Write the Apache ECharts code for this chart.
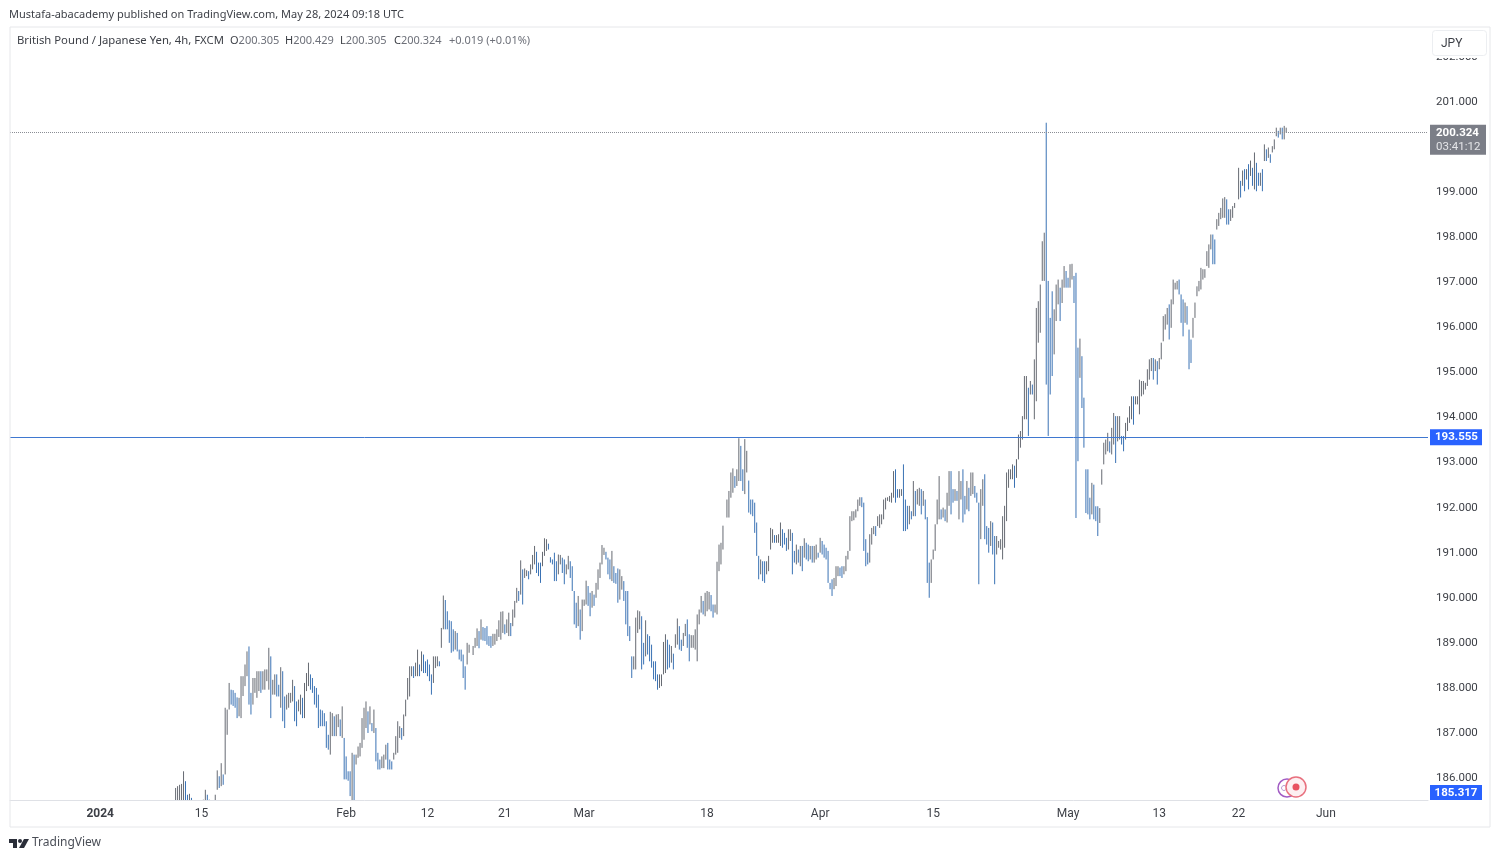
<!DOCTYPE html>
<html>
<head>
<meta charset="utf-8">
<title>GBPJPY 4h</title>
<script src="https://cdn.jsdelivr.net/npm/echarts@6/dist/echarts.min.js"></script>
<style>
  html, body { margin: 0; padding: 0; background: #fff; }
  #main { width: 1500px; height: 861px; }
</style>
</head>
<body>
<div id="main"></div>
<script>
'use strict';

// [low, high] of each 4h bar
var janFebBars = [
  [185.2,185.78],[185.2,185.82],[185.2,185.85],[185.3,185.87],[185.5,186.15],[185.4,185.93],[185.2,185.63],[185.2,185.65],[185.1,185.56],[185.0,185.4],
  [185.0,185.4],[184.9,185.3],[184.9,185.35],[185.0,185.44],[185.1,185.52],[185.2,185.74],[185.2,185.63],[185.2,185.52],[185.1,185.42],[185.1,185.43],
  [185.2,185.63],[185.74,186.17],[185.78,186.04],[185.82,186.33],[185.85,186.08],[186.08,187.56],[186.96,187.52],[187.52,188.11],[187.63,187.96],[187.60,187.95],[187.56,187.89],
  [187.33,187.79],[187.37,187.78],[187.33,188.26],[187.82,188.26],[188.04,188.52],[188.26,188.81],[187.63,188.92],[187.41,187.89],[187.63,188.22],[187.89,188.22],
  [187.78,188.37],[187.93,188.37],[187.89,188.37],[187.96,188.37],[187.96,188.41],[188.15,188.41],[187.96,188.89],[187.33,188.70],[187.85,188.18],[187.85,188.30],
  [187.81,188.30],[187.81,188.07],[187.56,188.46],[187.26,188.37],[187.11,187.81],[187.52,187.85],[187.56,187.89],[187.67,187.89],[187.70,188.18],[187.26,188.04],
  [187.15,187.70],[187.48,187.74],[187.41,187.85],[187.33,187.78],[187.33,188.11],[187.93,188.33],[188.04,188.56],[187.96,188.30],[187.89,188.22],[187.63,188.04],
  [187.56,188.0],[187.11,187.85],[187.15,187.52],[187.15,187.50],[187.15,187.44],[186.67,187.26],[186.63,186.96],[186.52,187.47],[186.93,187.44],[186.93,187.37],
  [186.93,187.41],[187.13,187.42],[186.93,187.30],[186.89,187.59],[185.97,186.89],[185.97,186.48],[185.94,186.15],[185.6,186.15],[185.48,186.56],[185.40,186.52],[186.30,186.52],
  [186.45,186.70],[186.48,186.78],[186.67,187.33],[186.85,187.56],[187.11,187.70],[187.0,187.48],[187.19,187.59],[187.04,187.22],[187.0,187.52],[186.37,187.11],
  [186.19,186.56],[186.19,186.41],[186.22,186.48],[186.22,186.52],[186.41,186.74],[186.19,186.78],[186.19,186.41],[186.19,186.37],[186.41,186.56],[186.52,186.93],
  [186.56,187.26],[186.89,187.15],[186.85,187.11],[186.93,187.41],[187.37,187.74],[187.74,188.22],[187.81,188.48],[188.26,188.48],[188.22,188.48],[188.26,188.56],
  [188.26,188.85],[188.26,188.52],[188.37,188.81],[188.33,188.74],[188.33,188.59],[188.26,188.63],[188.15,188.52],[187.85,188.30],[188.11,188.70],[188.44,188.70],
  [188.48,188.70],[188.48,188.59],[188.89,189.33],[189.30,190.05],[189.3,189.95],[189.3,189.7],[189.0,189.5],[188.78,189.48],[188.81,189.30],[188.85,189.26],
  [188.81,189.22],[188.63,188.85],[188.59,188.85],[188.22,188.74],[187.96,188.48],[188.52,189.0],[188.78,188.96]
];
var febMarBars = [
  [188.73,188.93],[188.89,189.11],[188.93,189.32],[188.88,189.26],[189.07,189.52],[189.05,189.35],[189.04,189.33],[188.96,189.37],[188.93,189.15],[188.89,189.15],
  [188.93,189.2],[188.96,189.2],[189.04,189.3],[189.13,189.5],[189.07,189.69],[189.22,189.7],[189.19,189.41],[189.22,189.52],[189.15,189.67],[189.15,189.44],
  [189.37,189.74],[189.56,189.93],[189.89,190.22],[189.93,190.15],[190.07,190.83],[189.85,190.63],[190.44,190.65],[190.48,190.61],[190.41,190.59],[190.52,190.74],
  [190.63,190.95],[190.74,191.15],[190.55,191.02],[190.48,190.78],[190.33,190.78],[190.70,191.02],[190.93,191.32],[191.04,191.30],[191.07,191.2],[190.78,190.9],
  [190.74,190.85],[190.37,191.0],[190.37,190.81],[190.52,190.96],[190.74,190.95],[190.55,190.89],[190.3,190.85],[190.52,190.74],[190.63,190.93],[190.44,190.81],
  [190.15,190.7],[189.41,190.15],[189.33,189.89],[189.37,190.04],[189.07,189.74],[189.26,189.96],[189.82,189.96],[189.85,190.38],[189.82,190.26],[189.59,190.11],
  [189.78,190.15],[189.82,190.07],[190.0,190.33],[190.18,190.63],[190.44,190.78],[190.74,191.17],[190.95,191.11],[190.85,191.02],[190.52,190.89],[190.41,190.85],
  [190.37,191.04],[190.33,190.7],[190.31,190.55],[189.89,190.65],[189.96,190.63],[190.18,190.48],[189.93,190.37],[189.41,190.15],[189.15,190.15],[189.04,189.37],
  [188.22,188.7],[188.41,188.7],[188.41,189.56],[189.22,189.72],[189.30,189.70],[188.41,189.59],[188.52,189.0],[188.7,189.5],[188.74,189.19],[188.59,189.15],
  [188.45,188.96],[188.19,188.59],[188.15,188.59],[187.96,188.3],[188.0,188.3],[188.04,188.3],[188.3,189.02],[188.33,189.19],[188.41,189.07],[188.45,188.96],
  [188.56,188.93],[188.41,188.76],[188.89,189.19],[188.96,189.54],[188.85,189.37],[188.82,189.07],[188.93,189.22],[189.15,189.42],[188.89,189.52],[188.59,189.19],
  [188.89,189.17],[188.89,189.17],[188.85,189.3],[188.59,189.63],[189.41,189.74],[189.67,190.04],[189.63,189.93],[189.59,190.11],[189.70,190.15],[189.74,190.13],
  [189.70,190.06],[189.56,189.85],[189.67,189.85],[189.63,190.8],[190.59,191.18],[190.74,191.22],[191.07,191.6]
];
var marAprBars = [
  [191.78,192.18],[191.78,192.37],[192.22,192.78],[192.33,192.87],[192.44,192.70],[192.48,192.85],[192.59,193.54],[192.59,193.37],[192.37,192.85],[192.30,193.52],
  [192.78,193.26],[191.89,192.60],[191.85,192.18],[191.81,192.18],[191.44,192.11],[190.93,191.67],[190.41,190.93],[190.52,190.85],[190.37,190.81],[190.33,190.81],
  [190.52,190.81],[190.59,190.93],[191.07,191.55],[191.22,191.52],[191.22,191.39],[191.22,191.39],[191.22,191.41],[191.15,191.67],[191.11,191.52],[191.18,191.44],
  [191.04,191.33],[191.07,191.52],[191.26,191.52],[190.52,191.44],[190.78,191.04],[190.74,191.18],[190.78,191.07],[190.70,191.15],[190.59,191.15],[190.89,191.32],
  [190.85,191.22],[190.81,191.18],[190.85,191.15],[190.78,191.15],[190.78,191.15],[190.85,191.18],[190.89,191.0],[191.0,191.33],[190.96,191.26],[190.89,191.18],
  [190.85,191.11],[190.33,191.04],[190.19,190.33],[190.04,190.41],[190.19,190.44],[190.26,190.70],[190.48,190.70],[190.48,190.67],[190.44,190.70],[190.52,190.70],
  [190.59,190.93],[190.85,191.04],[191.04,191.81],[191.70,191.92],[191.72,191.92],[191.78,191.96],[191.92,192.18],[192.04,192.23],[192.01,192.23],[191.04,192.11],
  [190.70,191.30],[190.74,191.0],[190.78,191.41],[191.18,191.55],[191.41,191.59],[191.37,191.59],[191.59,191.81],[191.55,191.85],[191.63,191.85],[191.74,192.18],
  [191.96,192.22],[192.15,192.23],[192.13,192.26],[192.11,192.33],[192.22,192.81],[192.11,192.85],[192.22,192.41],[192.22,192.41],[192.26,192.41],[191.48,192.96],
  [191.48,192.18],[191.52,192.04],[191.63,192.04],[191.74,191.92],[191.81,192.59],[191.81,192.37],[192.07,192.41],[192.04,192.44],[191.85,192.41],[192.04,192.37],
  [191.74,192.18],[190.33,191.79],[190.0,190.78],[190.33,190.85],[190.85,191.07],[191.04,191.63],[191.63,192.18],[191.74,192.70],[191.74,191.96],[191.78,192.0],
  [191.70,191.96],[191.67,192.33],[192.04,192.81],[191.85,192.81],[192.11,192.41],[192.15,192.41],[192.15,192.37],[191.74,192.81],[192.18,192.59],[191.67,192.85],
  [191.85,192.26],[191.96,192.59],[191.92,192.44],[192.26,192.78],[192.30,192.78],[192.22,192.48],[192.11,192.33],[190.30,192.11],[191.30,192.41],[192.04,192.63],
  [191.30,192.74],[191.18,191.59],[191.0,191.55],[191.15,191.70],[190.96,191.67],[190.30,191.37],[190.96,191.37],[191.11,191.26],[191.07,191.30],[190.85,191.81],
  [191.11,192.04],[191.70,192.78],[192.44,192.85],[192.63,192.85],[192.63,192.96],[192.44,192.93],[192.66,193.07]
];
var aprMayBars = [
  [192.70,193.07],[193.07,193.62],[193.33,193.70],[193.51,194.03],[193.96,194.92],[193.96,194.92],[193.59,194.66],[194.51,194.81],[194.51,194.73],[193.96,195.29],
  [194.36,196.43],[195.66,196.58],[195.88,196.95],[197.03,197.91],[197.03,198.10],[194.73,200.54],[193.59,197.03],[194.51,196.21],[194.92,196.80],[195.40,196.40],
  [196.14,196.95],[196.51,197.06],[196.14,196.88],[196.54,197.06],[196.88,197.36],[196.88,197.25],[196.88,197.10],[196.88,197.40],[197.06,197.41],[196.54,197.14],
  [191.77,197.21],[193.03,195.55],[194.88,195.75],[194.21,195.36],[193.33,194.44],[191.88,192.85],[191.85,192.85],[191.74,192.22],[191.85,192.55],[191.74,192.51],
  [191.70,192.03],[191.37,192.03],[191.66,191.99],[192.51,192.85],[192.96,193.44],[193.18,193.51],[193.25,193.66],[193.22,193.47],[193.18,193.77],[193.40,194.10],
  [192.99,194.03],[193.47,194.03],[193.51,194.03],[193.40,193.59],[193.25,193.59],[193.51,193.88],[193.70,194.0],[193.88,194.25],[193.96,194.47],[193.84,194.47],
  [194.29,194.47],[194.29,194.47],[194.07,194.84],[194.47,194.81],[194.51,194.81],[194.62,194.77],[194.70,195.07],[194.84,195.29],[195.03,195.32],[194.84,195.32],
  [195.03,195.29],[194.73,195.25],[195.07,195.32],[195.29,195.66],[195.69,196.25],[195.95,196.29],[196.06,196.43],[195.73,196.51],[195.99,196.62],[196.51,197.06],
  [196.84,196.99],[196.84,197.03],[196.73,197.06],[196.10,196.73],[195.80,196.62],[196.10,196.55],[196.06,196.47],[195.07,195.95],[195.21,195.73],[195.77,196.21],
  [196.21,196.55],[196.69,196.91],[196.80,197.03],[196.84,197.32],[197.06,197.29],[197.10,197.29],[197.36,197.69],[197.32,197.84],[197.73,198.06],[197.40,198.06],
  [197.40,197.95],[198.17,198.40],[198.25,198.54],[198.40,198.65],[198.43,198.86],[198.43,198.89],[198.28,198.84],[198.28,198.62],[198.36,198.62],[198.43,198.69],
  [198.65,198.76]
];
var mayBars = [
  [198.84,199.54],[198.88,199.25],[199.14,199.48],[199.02,199.51],[199.28,199.51],[199.06,199.62],[199.36,199.70],[199.14,199.54],[199.06,199.88],
  [199.02,199.65],[199.14,199.43],[199.14,199.43],[199.02,199.51],[199.69,200.06],[199.69,199.95],[199.76,199.99],[199.65,199.84],[199.88,200.02],[199.95,200.17],
  [200.24,200.43],[200.21,200.36],[200.28,200.43],[200.17,200.43],[200.17,200.47],[200.32,200.43]
];

var barSections = [janFebBars, febMarBars, marAprBars, aprMayBars, mayBars];
var sectionStarts = [83, 233, 361, 507, 619];   // category slot of each section's first bar
var forcedDown = [522, 524, 525];               // drawn blue although their midpoint rose

var slotCount = 715;
var tickSlots = [45, 96, 169, 210, 249, 289, 351, 408, 465, 533, 579, 619, 663];
var tickLabels = ['2024', '15', 'Feb', '12', '21', 'Mar', '18', 'Apr', '15', 'May', '13', '22', 'Jun'];
var priceTicks = [186, 187, 188, 189, 190, 191, 192, 193, 194, 195, 196, 197, 198, 199, 200, 201, 202];

var supportLevel = 193.555;
var lastPrice = 200.324;
var countdown = '03:41:12';
var lowLabel = '185.317';

var UP = '#666a72', DOWN = '#3a72b4';
var FONT = '"Noto Sans", sans-serif';
var AXIS_FONT = 'Roboto, sans-serif';

var categories = [];
for (var s = 0; s < slotCount; s++) categories.push('');
tickSlots.forEach(function (slot, i) { categories[slot] = tickLabels[i]; });

var bars = [];
barSections.forEach(function (section, n) {
  section.forEach(function (bar, i) {
    var prev = i > 0 ? section[i - 1] : bar;
    var slot = sectionStarts[n] + i;
    var down = (bar[0] + bar[1]) < (prev[0] + prev[1]) || forcedDown.indexOf(slot) >= 0 ? 1 : 0;
    bars.push([slot, bar[0], bar[1], down]);
  });
});

function renderBar(params, api) {
  var lo = api.coord([api.value(0), api.value(1)]);
  var hi = api.coord([api.value(0), api.value(2)]);
  return {
    type: 'line',
    shape: { x1: lo[0], y1: lo[1], x2: hi[0], y2: hi[1] },
    style: { stroke: api.value(3) ? DOWN : UP, lineWidth: 1 }
  };
}

function legendText(x, key, value) {
  return {
    type: 'text', z: 100, x: x, y: 35,
    style: {
      text: '{k|' + key + '}{v|' + value + '}',
      rich: {
        k: { fill: '#3c3f46', font: '11px ' + FONT },
        v: { fill: '#6d7079', font: '11px ' + FONT }
      }
    }
  };
}

var chart = echarts.init(document.getElementById('main'));

chart.setOption({
  animation: false,
  backgroundColor: '#fff',
  grid: { left: 10, right: 72, top: 27, bottom: 61, containLabel: false },
  xAxis: {
    type: 'category',
    data: categories,
    boundaryGap: true,
    axisLine: { lineStyle: { color: '#dfe1e6' } },
    axisTick: { show: false },
    splitLine: { show: false },
    axisLabel: {
      interval: function (i, v) { return v !== ''; },
      hideOverlap: false,
      color: '#3c3f46',
      fontSize: 12,
      fontFamily: AXIS_FONT,
      margin: 8,
      formatter: function (v) { return v === '2024' ? '{b|2024}' : v; },
      rich: { b: { fontWeight: 'bold', fontSize: 12, color: '#3c3f46', fontFamily: AXIS_FONT } }
    }
  },
  yAxis: {
    type: 'value',
    position: 'right',
    min: 185.513,
    max: 202.664,
    axisLine: { show: false },
    axisTick: { show: false },
    splitLine: { show: false },
    axisLabel: {
      customValues: priceTicks,
      color: '#3c3f46',
      fontSize: 11.5,
      fontFamily: AXIS_FONT,
      margin: 8,
      formatter: function (v) { return v.toFixed(3); }
    }
  },
  series: [{
    type: 'custom',
    renderItem: renderBar,
    clip: true,
    encode: { x: 0, y: [1, 2] },
    data: bars,
    silent: true,
    markLine: {
      silent: true,
      symbol: 'none',
      animation: false,
      data: [
        {
          yAxis: supportLevel,
          lineStyle: { color: '#3f78d0', type: 'solid', width: 1 },
          label: {
            position: 'end', distance: 2,
            formatter: supportLevel.toFixed(3),
            backgroundColor: '#2962ff', color: '#fff',
            fontSize: 11.5, fontWeight: 'bold', fontFamily: AXIS_FONT,
            align: 'left', width: 47, height: 16, lineHeight: 16, padding: [0, 0, 0, 5]
          }
        },
        {
          yAxis: lastPrice,
          lineStyle: { color: '#8a8d94', type: 'dotted', width: 1 },
          label: {
            position: 'end', distance: 2,
            offset: [0, 7],
            formatter: '{a|' + lastPrice.toFixed(3) + '}\n{b|' + countdown + '}',
            rich: {
              a: { color: '#fff', fontSize: 11.5, fontWeight: 'bold', fontFamily: AXIS_FONT, lineHeight: 14 },
              b: { color: '#e4e5e8', fontSize: 11.5, fontFamily: AXIS_FONT, lineHeight: 14 }
            },
            backgroundColor: '#7b7e87',
            align: 'left', width: 50, padding: [1, 0, 1, 6]
          }
        }
      ]
    }
  }],
  graphic: [
    { type: 'rect', z: 100, shape: { x: 10, y: 27, width: 1480, height: 800 }, style: { fill: 'none', stroke: '#e6e7ea', lineWidth: 1 }, silent: true },
    { type: 'text', z: 100, x: 9, y: 9, style: { text: 'Mustafa-abacademy published on TradingView.com, May 28, 2024 09:18 UTC', fill: '#3c3f46', font: '11px ' + FONT } },
    { type: 'text', z: 100, x: 17, y: 35, style: { text: 'British Pound / Japanese Yen, 4h, FXCM', fill: '#3c3f46', font: '11.3px ' + FONT } },
    legendText(230, 'O', '200.305'),
    legendText(285, 'H', '200.429'),
    legendText(340, 'L', '200.305'),
    legendText(394, 'C', '200.324'),
    { type: 'text', z: 100, x: 449, y: 35, style: { text: '+0.019 (+0.01%)', fill: '#6d7079', font: '11px ' + FONT } },

    // currency button sits over the 202 tick label
    { type: 'rect', z: 100, shape: { x: 1429, y: 28, width: 60, height: 30 }, style: { fill: '#fff' } },
    { type: 'rect', z: 101, shape: { x: 1432.5, y: 30.5, width: 54, height: 25, r: 3 }, style: { fill: '#fff', stroke: '#eceef1', lineWidth: 1 } },
    { type: 'text', z: 102, x: 1441, y: 38, style: { text: 'JPY', fill: '#3c3f46', font: '12px ' + AXIS_FONT } },

    // price tag clipped at the foot of the scale
    { type: 'rect', z: 100, shape: { x: 1430, y: 785, width: 52, height: 15 }, style: { fill: '#2962ff' } },
    { type: 'text', z: 101, x: 1456, y: 793, style: { text: lowLabel, fill: '#fff', font: 'bold 11.5px ' + AXIS_FONT, align: 'center', verticalAlign: 'middle' } },

    // event markers
    { type: 'circle', z: 100, shape: { cx: 1287, cy: 788, r: 9 }, style: { fill: '#fff', stroke: '#a25cc4', lineWidth: 1.5 } },
    { type: 'arc', z: 100, shape: { cx: 1284, cy: 788, r: 2.5, startAngle: 0.8, endAngle: 5.5 }, style: { fill: 'none', stroke: '#b99ad2', lineWidth: 1 } },
    { type: 'circle', z: 101, shape: { cx: 1296, cy: 787, r: 10 }, style: { fill: '#fdeff1', stroke: '#e8707e', lineWidth: 1.5 } },
    { type: 'circle', z: 102, shape: { cx: 1296, cy: 787, r: 3.5 }, style: { fill: '#e8505f' } },

    // TradingView mark
    { type: 'polygon', z: 100, shape: { points: [[9, 839], [17, 839], [17, 848], [13, 848], [13, 843], [9, 843]] }, style: { fill: '#2a2e39' } },
    { type: 'circle', z: 100, shape: { cx: 20, cy: 841, r: 2 }, style: { fill: '#2a2e39' } },
    { type: 'polygon', z: 100, shape: { points: [[24, 839], [29, 839], [24, 848], [19, 848]] }, style: { fill: '#2a2e39' } },
    { type: 'text', z: 100, x: 32, y: 837, style: { text: 'TradingView', fill: '#4a4e57', font: '12px ' + FONT } }
  ]
});
</script>
</body>
</html>
